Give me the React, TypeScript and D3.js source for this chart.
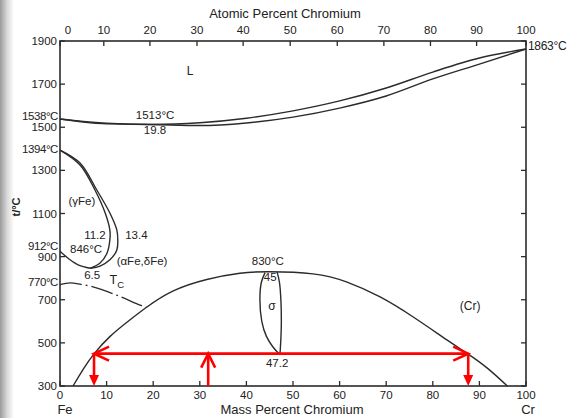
import React from 'react';
import * as d3 from 'd3';

const W = 568;
const H = 418;

// Axes
const massTicks = [0, 10, 20, 30, 40, 50, 60, 70, 80, 90, 100];
const atomicTickLabels = [0, 10, 20, 30, 40, 50, 60, 70, 80, 90, 100];
const atomicTickMass = [0, 9.4, 19.3, 29.4, 39.3, 49.4, 59.5, 69.5, 79.5, 89.4, 100];
const tempTicks = [1900, 1700, 1500, 1300, 1100, 900, 700, 500, 300];
const specialTemps = [
  { t: 1538, label: '1538°C', dy: -2 },
  { t: 1394, label: '1394°C', dy: 0 },
  { t: 912, label: '912°C', dy: -7 },
  { t: 770, label: '770°C', dy: -2 },
];

// Phase boundaries [mass % Cr, T °C]
const liquidus: [number, number][] = [
  [0, 1538], [5, 1527], [10, 1519], [19.8, 1513], [30, 1521], [40, 1542],
  [50, 1576], [60, 1622], [70, 1682], [80, 1756], [90, 1821], [100, 1863],
];
const solidus: [number, number][] = [
  [0, 1538], [5, 1524], [10, 1516], [19.8, 1513], [30, 1508], [40, 1520],
  [50, 1547], [60, 1589], [70, 1645], [80, 1724], [90, 1793], [100, 1863],
];
const gammaOuter: [number, number][] = [
  [0, 1394], [4.3, 1334], [7.9, 1209], [10.7, 1102], [12.2, 1023], [12.4, 977],
  [12.2, 931], [10.7, 885], [8.6, 856], [6.5, 846],
];
const gammaInner: [number, number][] = [
  [0, 1394], [4.3, 1325], [7.5, 1209], [9.7, 1102], [10.7, 1023], [10.7, 977],
  [10.1, 917], [8.6, 870], [6.5, 846],
];
const gammaLower: [number, number][] = [
  [0, 925], [2, 888], [4, 861], [6.5, 846],
];
const curieLine: [number, number][] = [
  [0, 770], [2.2, 778], [4.5, 771], [6.5, 763], [12.3, 720], [17.2, 675], [18.5, 666],
];
const sigmaDome: [number, number][] = [
  [2.8, 300], [5, 378], [7.3, 449], [10.7, 529], [14.5, 598], [18.5, 664],
  [24.2, 740], [31.5, 794], [38.6, 823], [45, 830], [54.3, 820], [61.6, 782],
  [68.7, 713], [75.8, 620], [83.1, 513], [87.6, 448], [91.7, 383], [96, 300],
];
const sigmaLeft: [number, number][] = [
  [44.0, 826], [43.2, 780], [42.9, 700], [43.3, 600], [44.3, 530], [45.7, 481], [47.2, 445],
];
const sigmaRight: [number, number][] = [
  [46.6, 828], [47.1, 780], [47.4, 700], [47.5, 600], [47.4, 520], [47.2, 445],
];

// Annotations [mass %, T, text]
const annotations: { x: number; t: number; text: string; size?: number }[] = [
  { x: 27.9, t: 1756, text: 'L', size: 12 },
  { x: 20.4, t: 1552, text: '1513°C' },
  { x: 20.4, t: 1482, text: '19.8' },
  { x: 4.7, t: 1153, text: '(γFe)' },
  { x: 7.5, t: 996, text: '11.2' },
  { x: 16.4, t: 996, text: '13.4' },
  { x: 5.6, t: 931, text: '846°C' },
  { x: 17.6, t: 875, text: '(αFe,δFe)' },
  { x: 6.9, t: 810, text: '6.5' },
  { x: 44.6, t: 875, text: '830°C' },
  { x: 45.1, t: 801, text: '45' },
  { x: 45.5, t: 666, text: 'σ', size: 12 },
  { x: 46.6, t: 402, text: '47.2' },
  { x: 88, t: 666, text: '(Cr)', size: 12 },
];

// Red lever-rule arrows
const redT = 450;
const redLeft = 7.3;
const redRight = 87.6;
const redMid = 31.8;

const x = d3.scaleLinear().domain([0, 100]).range([60, 526]);
const y = d3.scaleLinear().domain([300, 1900]).range([386, 41]);

const curve = d3.line<[number, number]>()
  .x((d) => x(d[0]))
  .y((d) => y(d[1]))
  .curve(d3.curveCatmullRom.alpha(0.5));

const smooth = d3.line<[number, number]>()
  .x((d) => x(d[0]))
  .y((d) => y(d[1]))
  .curve(d3.curveMonotoneX);

const natural = d3.line<[number, number]>()
  .x((d) => x(d[0]))
  .y((d) => y(d[1]))
  .curve(d3.curveNatural);

const INK = '#2b2b2b';
const FONT = '"Liberation Sans", Arial, sans-serif';
const RED = '#ff0000';

export default function App() {
  const left = x(0), right = x(100), top = y(1900), bottom = y(300);
  const ry = y(redT);
  const xl = x(redLeft), xr = x(redRight), xm = x(redMid);
  return (
    <svg width={W} height={H} style={{ position: 'absolute', left: 0, top: 0, background: '#fff' }}
      fontFamily={FONT}>
      <defs>
        <linearGradient id="edge" x1="0" x2="1" y1="0" y2="0">
          <stop offset="0" stopColor="#9a9a9a" />
          <stop offset="0.5" stopColor="#d8d8d8" />
          <stop offset="1" stopColor="#ffffff" />
        </linearGradient>
      </defs>
      <rect x={0} y={0} width={W} height={H} fill="#fff" />
      <rect x={0} y={0} width={14} height={H} fill="url(#edge)" />

      {/* Frame */}
      <rect x={left} y={top} width={right - left} height={bottom - top} fill="none" stroke={INK} strokeWidth={1.6} />

      {/* Bottom ticks */}
      {massTicks.map((m) => (
        <g key={'b' + m}>
          <line x1={x(m)} x2={x(m)} y1={bottom} y2={bottom - 5} stroke={INK} strokeWidth={1.3} />
          <text x={x(m)} y={bottom + 10} fontSize={11.5} textAnchor="middle" dominantBaseline="middle" fill="#222">{m}</text>
        </g>
      ))}
      {/* Top ticks (atomic %) */}
      {atomicTickMass.map((m, i) => (
        <g key={'t' + i}>
          <line x1={x(m)} x2={x(m)} y1={top} y2={top + 5} stroke={INK} strokeWidth={1.3} />
          <text x={x(m) + (i === 0 ? 8 : 0)} y={top - 10} fontSize={11.5} textAnchor="middle" dominantBaseline="middle" fill="#222">{atomicTickLabels[i]}</text>
        </g>
      ))}
      {/* Left / right ticks */}
      {tempTicks.map((t) => (
        <g key={'y' + t}>
          <line x1={left} x2={left + 5} y1={y(t)} y2={y(t)} stroke={INK} strokeWidth={1.3} />
          <line x1={right} x2={right - 5} y1={y(t)} y2={y(t)} stroke={INK} strokeWidth={1.3} />
          <text x={left - 3} y={y(t) + 1} fontSize={11.5} textAnchor="end" dominantBaseline="middle" fill="#222">{t}</text>
        </g>
      ))}
      {specialTemps.map((s) => (
        <text key={s.label} x={left - 2} y={y(s.t) + s.dy} fontSize={11.5} textAnchor="end" dominantBaseline="middle" fill="#222" letterSpacing={-0.4}>{s.label}</text>
      ))}
      <text x={right + 2} y={y(1863) - 2} fontSize={12} dominantBaseline="middle" fill="#222" letterSpacing={-0.3}>1863°C</text>

      {/* Axis titles */}
      <text x={285} y={15} fontSize={13} textAnchor="middle" dominantBaseline="middle" fill="#222">Atomic Percent Chromium</text>
      <text x={292} y={411} fontSize={13} textAnchor="middle" dominantBaseline="middle" fill="#222">Mass Percent Chromium</text>
      <text x={x(0) + 5} y={411} fontSize={13} textAnchor="middle" dominantBaseline="middle" fill="#222">Fe</text>
      <text x={x(100) + 2} y={411} fontSize={13} textAnchor="middle" dominantBaseline="middle" fill="#222">Cr</text>
      <text transform="translate(17,207) rotate(-90)" fontSize={11} fontWeight="bold" textAnchor="middle" dominantBaseline="middle" fill="#222">t/°C</text>

      {/* Phase boundaries */}
      <g fill="none" stroke={INK} strokeWidth={1.4}>
        <path d={smooth(liquidus) || ''} />
        <path d={smooth(solidus) || ''} />
        <path d={curve(gammaOuter) || ''} />
        <path d={curve(gammaInner) || ''} />
        <path d={curve(gammaLower) || ''} />
        <path d={natural(sigmaDome) || ''} />
        <path d={curve(sigmaLeft) || ''} />
        <path d={curve(sigmaRight) || ''} />
        <path d={curve(curieLine) || ''} strokeDasharray="22 4 2 4" strokeWidth={1.3} />
      </g>

      {/* Annotations */}
      {annotations.map((a, i) => (
        <text key={i} x={x(a.x)} y={y(a.t)} fontSize={a.size || 11.5} textAnchor="middle" dominantBaseline="middle" fill="#222">{a.text}</text>
      ))}
      <text x={x(12.2)} y={y(787)} fontSize={12.5} textAnchor="middle" dominantBaseline="middle" fill="#222">
        T<tspan fontSize={9.5} dy={4}>C</tspan>
      </text>

      {/* Red arrows */}
      <g stroke={RED} strokeWidth={2.6} fill="none" strokeLinecap="butt">
        <line x1={xl} x2={xr} y1={ry} y2={ry} />
        <polyline points={`${xl + 15},${ry - 7} ${xl},${ry} ${xl + 15},${ry + 7}`} />
        <polyline points={`${xr - 15},${ry - 7} ${xr},${ry} ${xr - 15},${ry + 7}`} />
        <line x1={xl} x2={xl} y1={ry} y2={bottom - 10} />
        <line x1={xr} x2={xr} y1={ry} y2={bottom - 10} />
        <line x1={xm} x2={xm} y1={bottom} y2={ry} />
        <polyline points={`${xm - 7},${ry + 14} ${xm},${ry} ${xm + 7},${ry + 14}`} />
      </g>
      <g fill={RED}>
        <polygon points={`${xl - 5},${bottom - 11} ${xl + 5},${bottom - 11} ${xl},${bottom}`} />
        <polygon points={`${xr - 5},${bottom - 11} ${xr + 5},${bottom - 11} ${xr},${bottom}`} />
      </g>
    </svg>
  );
}
